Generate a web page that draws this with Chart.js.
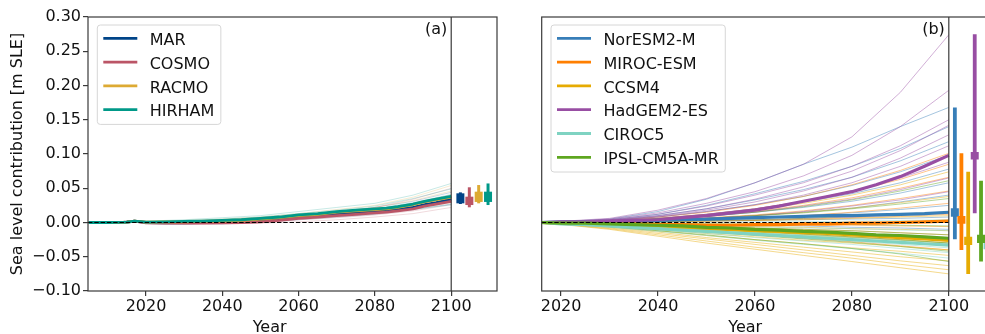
<!DOCTYPE html>
<html><head><meta charset="utf-8">
<script src="https://cdn.jsdelivr.net/npm/chart.js@4/dist/chart.umd.min.js"></script>
<style>
html,body{margin:0;padding:0;background:#fff;overflow:hidden;width:985px;height:334px;}
#wa{position:absolute;left:0;top:0;width:500px;height:334px;}
#wb{position:absolute;left:500px;top:0;width:500px;height:334px;}
</style></head><body>
<div id="wa"><canvas id="ca" width="500" height="334"></canvas></div>
<div id="wb"><canvas id="cb" width="500" height="334"></canvas></div>
<script>
// ---------------- shared ticks ----------------
const xTicks = [2020, 2040, 2060, 2080, 2100];
const yTicks = [-0.10, -0.05, 0.00, 0.05, 0.10, 0.15, 0.20, 0.25, 0.30];
const yTickLabels = ['\u22120.10', '\u22120.05', '0.00', '0.05', '0.10', '0.15', '0.20', '0.25', '0.30'];

// ---------------- panel (a) ----------------
const aNames = ['MAR', 'COSMO', 'RACMO', 'HIRHAM'];
const aColors = ['#004488', '#BB5566', '#DDAA33', '#009988'];
const aYears = [2005,2010,2015,2017,2020,2025,2030,2035,2040,2045,2050,2055,2060,2065,2070,2075,2080,2083,2086,2090,2093,2096,2100];
const aMAR    = [0,0,0.0005,0.002,0,-0.0005,-0.0005,-0.0003,0,0.001,0.003,0.005,0.008,0.010,0.012,0.014,0.016,0.017,0.019,0.022,0.026,0.029,0.034];
const aCOSMO  = [0,0,0.0005,0.002,-0.0005,-0.001,-0.001,-0.001,-0.0005,0,0.001,0.003,0.006,0.008,0.010,0.012,0.014,0.015,0.017,0.020,0.024,0.027,0.031];
const aRACMO  = [0,0,0.0005,0.002,0.0005,0.001,0.001,0.0015,0.002,0.003,0.005,0.007,0.010,0.012,0.015,0.017,0.019,0.020,0.022,0.026,0.030,0.033,0.037];
const aHIRHAM = [0,0,0.0005,0.002,0.0005,0.001,0.0015,0.002,0.003,0.004,0.006,0.008,0.011,0.013,0.016,0.018,0.020,0.021,0.023,0.027,0.031,0.034,0.038];

const aThinYears = [2005,2017,2020,2030,2040,2050,2060,2070,2080,2090,2100];
const aMARThin = [
  [0,0.002,0,-0.001,-0.002,0.000,0.004,0.008,0.012,0.019,0.027],
  [0,0.002,0,0.000,0.001,0.003,0.007,0.011,0.016,0.023,0.033],
  [0,0.002,0.001,0.001,0.003,0.005,0.009,0.014,0.019,0.028,0.040],
  [0,0.002,0.001,0.002,0.004,0.007,0.011,0.016,0.022,0.031,0.044]
];
const aCOSMOThin = [
  [0,0.002,-0.001,-0.002,-0.002,-0.001,0.001,0.004,0.008,0.013,0.022],
  [0,0.002,0,-0.001,-0.001,0.001,0.004,0.007,0.011,0.017,0.026],
  [0,0.002,0,0.000,0.001,0.003,0.006,0.010,0.015,0.022,0.032],
  [0,0.002,0.001,0.001,0.003,0.006,0.010,0.015,0.022,0.034,0.050]
];
const aRACMOThin = [
  [0,0.002,0.001,0.001,0.002,0.004,0.007,0.010,0.014,0.020,0.029],
  [0,0.002,0.001,0.002,0.004,0.007,0.011,0.016,0.022,0.032,0.046],
  [0,0.002,0.001,0.003,0.005,0.008,0.013,0.019,0.025,0.037,0.054],
  [0,0.002,0.000,0.001,0.003,0.005,0.009,0.013,0.019,0.028,0.040]
];
const aHIRHAMThin = [
  [0,0.002,0.002,0.004,0.007,0.010,0.016,0.022,0.028,0.040,0.057],
  [0,0.002,0.001,0.003,0.005,0.008,0.013,0.018,0.024,0.035,0.049],
  [0,0.002,0.001,0.002,0.004,0.006,0.010,0.015,0.020,0.029,0.041],
  [0,0.002,0.000,0.001,0.002,0.003,0.006,0.009,0.013,0.019,0.026]
];
const aBarX   = [2102.4, 2104.75, 2107.2, 2109.65];
const aBarMin = [0.027, 0.0222, 0.028, 0.0255];
const aBarMax = [0.044, 0.0514, 0.0547, 0.057];
const aBarLo  = [0.028, 0.0255, 0.030, 0.030];
const aBarHi  = [0.0426, 0.0377, 0.045, 0.045];

// ---------------- panel (b) ----------------
const bNames = ['NorESM2-M', 'MIROC-ESM', 'CCSM4', 'HadGEM2-ES', 'CIROC5', 'IPSL-CM5A-MR'];
const bColors = ['#377eb8', '#ff7f00', '#e6ab02', '#984ea3', '#7fd3c2', '#5ea620'];
const bYears = [2016,2020,2025,2030,2035,2040,2045,2050,2055,2060,2065,2070,2075,2080,2085,2090,2095,2100];
const bNorESM = [0,0.001,0.001,0.001,0.002,0.003,0.004,0.005,0.006,0.007,0.008,0.009,0.010,0.010,0.011,0.012,0.013,0.015];
const bMIROC  = [0,-0.001,-0.001,-0.002,-0.002,-0.003,-0.003,-0.004,-0.004,-0.003,-0.003,-0.002,-0.002,-0.001,-0.001,0.000,0.001,0.002];
const bCCSM4  = [0,-0.001,-0.002,-0.003,-0.004,-0.006,-0.007,-0.009,-0.010,-0.012,-0.013,-0.015,-0.016,-0.018,-0.020,-0.022,-0.024,-0.026];
const bHadGEM = [0,0.001,0.001,0.002,0.003,0.004,0.007,0.010,0.014,0.018,0.024,0.031,0.038,0.045,0.055,0.067,0.082,0.098];
const bCIROC5 = [0,-0.002,-0.003,-0.005,-0.007,-0.009,-0.011,-0.013,-0.015,-0.017,-0.019,-0.021,-0.023,-0.025,-0.027,-0.029,-0.031,-0.033];
const bIPSL   = [0,-0.001,-0.001,-0.002,-0.003,-0.004,-0.005,-0.007,-0.008,-0.010,-0.011,-0.013,-0.014,-0.016,-0.018,-0.019,-0.021,-0.023];

const bThinYears = [2016,2030,2040,2050,2060,2070,2080,2090,2100];
const bNorESMThin = [
  [0,0.005,0.016,0.034,0.058,0.085,0.110,0.140,0.168],
  [0,0.004,0.012,0.025,0.042,0.060,0.082,0.108,0.140],
  [0,0.003,0.010,0.020,0.033,0.048,0.066,0.090,0.118],
  [0,0.003,0.008,0.016,0.026,0.038,0.054,0.074,0.098],
  [0,0.002,0.006,0.012,0.020,0.030,0.042,0.058,0.078],
  [0,0.002,0.005,0.009,0.015,0.022,0.031,0.043,0.058],
  [0,0.001,0.003,0.006,0.010,0.015,0.021,0.030,0.040],
  [0,0.001,0.002,0.004,0.007,0.010,0.014,0.019,0.025],
  [0,0.000,0.001,0.002,0.003,0.004,0.005,0.006,0.008],
  [0,-0.001,-0.002,-0.003,-0.004,-0.005,-0.007,-0.008,-0.010],
  [0,-0.002,-0.004,-0.007,-0.010,-0.013,-0.016,-0.020,-0.024]
];
const bMIROCThin = [
  [0,0.003,0.008,0.015,0.025,0.038,0.055,0.076,0.101],
  [0,0.002,0.006,0.012,0.020,0.031,0.045,0.063,0.085],
  [0,0.002,0.005,0.010,0.016,0.025,0.036,0.050,0.066],
  [0,0.001,0.003,0.007,0.011,0.017,0.025,0.035,0.046],
  [0,0.001,0.002,0.004,0.007,0.010,0.015,0.021,0.028],
  [0,0.000,0.001,0.002,0.003,0.005,0.007,0.009,0.012],
  [0,-0.001,-0.002,-0.002,-0.003,-0.004,-0.004,-0.005,-0.006],
  [0,-0.002,-0.004,-0.006,-0.008,-0.010,-0.012,-0.015,-0.018],
  [0,-0.003,-0.006,-0.009,-0.013,-0.017,-0.021,-0.025,-0.030],
  [0,-0.004,-0.008,-0.013,-0.018,-0.023,-0.028,-0.034,-0.040]
];
const bCCSM4Thin = [
  [0,0.002,0.006,0.011,0.018,0.028,0.040,0.055,0.074],
  [0,0.001,0.003,0.006,0.010,0.015,0.021,0.029,0.038],
  [0,0.000,0.001,0.002,0.003,0.004,0.006,0.008,0.010],
  [0,-0.002,-0.003,-0.004,-0.006,-0.007,-0.009,-0.010,-0.012],
  [0,-0.004,-0.008,-0.012,-0.016,-0.019,-0.022,-0.026,-0.030],
  [0,-0.005,-0.010,-0.016,-0.021,-0.026,-0.030,-0.035,-0.040],
  [0,-0.006,-0.012,-0.019,-0.025,-0.031,-0.037,-0.042,-0.048],
  [0,-0.007,-0.014,-0.022,-0.029,-0.036,-0.043,-0.050,-0.056],
  [0,-0.008,-0.016,-0.024,-0.032,-0.040,-0.048,-0.056,-0.063],
  [0,-0.009,-0.018,-0.027,-0.036,-0.044,-0.052,-0.061,-0.069],
  [0,-0.010,-0.020,-0.030,-0.039,-0.048,-0.057,-0.066,-0.075]
];
const bHadGEMThin = [
  [0,0.006,0.018,0.035,0.058,0.085,0.125,0.190,0.274],
  [0,0.005,0.014,0.028,0.045,0.068,0.098,0.140,0.193],
  [0,0.004,0.012,0.024,0.040,0.058,0.082,0.112,0.150],
  [0,0.004,0.010,0.020,0.034,0.052,0.075,0.105,0.142],
  [0,0.003,0.009,0.018,0.030,0.046,0.066,0.094,0.128],
  [0,0.003,0.008,0.016,0.026,0.040,0.058,0.082,0.112],
  [0,0.002,0.006,0.012,0.020,0.031,0.046,0.065,0.088],
  [0,0.002,0.005,0.009,0.015,0.024,0.034,0.048,0.065],
  [0,0.001,0.003,0.006,0.010,0.016,0.024,0.033,0.045],
  [0,0.001,0.002,0.003,0.004,0.006,0.008,0.011,0.014]
];
const bCIROC5Thin = [
  [0,-0.001,-0.001,0.000,0.001,0.001,0.002,0.003,0.004],
  [0,-0.002,-0.003,-0.005,-0.006,-0.008,-0.009,-0.011,-0.012],
  [0,-0.003,-0.005,-0.008,-0.011,-0.014,-0.016,-0.019,-0.022],
  [0,-0.004,-0.007,-0.011,-0.015,-0.018,-0.022,-0.026,-0.030],
  [0,-0.005,-0.009,-0.014,-0.018,-0.023,-0.027,-0.032,-0.037],
  [0,-0.006,-0.011,-0.016,-0.022,-0.027,-0.032,-0.038,-0.044],
  [0,-0.007,-0.013,-0.019,-0.026,-0.032,-0.038,-0.045,-0.052]
];
const bIPSLThin = [
  [0,0.002,0.005,0.009,0.015,0.023,0.033,0.046,0.061],
  [0,0.001,0.003,0.006,0.010,0.014,0.020,0.027,0.035],
  [0,0.000,0.001,0.003,0.004,0.006,0.009,0.012,0.015],
  [0,-0.001,-0.001,-0.002,-0.002,-0.003,-0.003,-0.004,-0.005],
  [0,-0.002,-0.004,-0.006,-0.008,-0.010,-0.012,-0.015,-0.018],
  [0,-0.003,-0.006,-0.010,-0.014,-0.017,-0.021,-0.025,-0.030],
  [0,-0.005,-0.009,-0.014,-0.019,-0.024,-0.029,-0.035,-0.042],
  [0,-0.006,-0.012,-0.018,-0.025,-0.031,-0.038,-0.046,-0.057]
];
const bBarX   = [2101.25, 2102.6, 2104.0, 2105.35, 2108.0, 2106.65];
const bBarMin = [-0.0245, -0.040, -0.075, 0.0134, -0.052, -0.057];
const bBarMax = [0.168, 0.101, 0.074, 0.275, 0.004, 0.061];
const bBarLo  = [0.0085, -0.002, -0.033, 0.092, -0.039, -0.030];
const bBarHi  = [0.0207, 0.0095, -0.0207, 0.103, -0.027, -0.018];

// ---------------- helpers ----------------
const FONT = "'DejaVu Sans', sans-serif";
const TXT = '#111';
const AX = '#3a3a3a';
function rgba(hex, a) {
  const n = parseInt(hex.slice(1), 16);
  return `rgba(${(n >> 16) & 255},${(n >> 8) & 255},${n & 255},${a})`;
}
function pts(xs, ys) { return xs.map((x, i) => ({ x: x, y: ys[i] })); }
function lineSet(data, color, width) {
  return { type: 'line', data: data, borderColor: color, backgroundColor: color, borderWidth: width,
    pointRadius: 0, fill: false, tension: 0, borderCapStyle: 'butt', borderJoinStyle: 'round' };
}
function buildSets(thinYears, thinGroups, years, thick, colors, thinAlpha, thinWidth, thickWidth,
                   barX, barMin, barMax, barLo, barHi, rangeW, boxW) {
  const seq = [];
  thinGroups.forEach((g, k) => g.forEach(r => seq.push(lineSet(pts(thinYears, r), rgba(colors[k], thinAlpha), thinWidth))));
  thick.forEach((t, k) => seq.push(lineSet(pts(years, t), colors[k], thickWidth)));
  barX.forEach((x, k) => {
    seq.push(lineSet([{ x: x, y: barMin[k] }, { x: x, y: barMax[k] }], colors[k], rangeW));
    seq.push(lineSet([{ x: x, y: barLo[k] }, { x: x, y: barHi[k] }], colors[k], boxW));
  });
  const N = seq.length;
  seq.forEach((d, i) => { d.order = N - i; });
  return seq;
}

const decor = {
  id: 'decor',
  afterDatasetsDraw(chart, args, o) {
    const { ctx, chartArea: a, scales: { x, y } } = chart;
    const xs = x.getPixelForValue(o.split);
    const y0 = y.getPixelForValue(0);
    ctx.save();
    ctx.strokeStyle = '#000'; ctx.lineWidth = 1.2; ctx.setLineDash([4.4, 1.9]);
    ctx.beginPath(); ctx.moveTo(a.left, y0); ctx.lineTo(xs, y0); ctx.stroke();
    ctx.setLineDash([]);
    ctx.strokeStyle = AX; ctx.lineWidth = 1.2;
    ctx.beginPath(); ctx.moveTo(xs, a.top); ctx.lineTo(xs, a.bottom); ctx.stroke();
    ctx.strokeRect(a.left, a.top, a.right - a.left, a.bottom - a.top);
    ctx.fillStyle = TXT; ctx.font = '16px ' + FONT;
    ctx.textAlign = 'right'; ctx.textBaseline = 'alphabetic';
    ctx.fillText(o.tag, xs - 4, a.top + 17);
    ctx.textAlign = 'center';
    ctx.fillText('Year', (a.left + xs) / 2, 331.5);
    // legend
    const L = a.left + 9.3, T = a.top + 8, rowH = 23.8;
    const textX = L + 52.4;
    let maxW = 0;
    o.names.forEach(n => { maxW = Math.max(maxW, ctx.measureText(n).width); });
    const W = textX - L + maxW + 6.5;
    const H = 28 + (o.names.length - 1) * rowH;
    ctx.fillStyle = 'rgba(255,255,255,0.8)';
    ctx.strokeStyle = '#d6d6d6'; ctx.lineWidth = 1;
    ctx.beginPath();
    if (ctx.roundRect) ctx.roundRect(L, T, W, H, 3); else ctx.rect(L, T, W, H);
    ctx.fill(); ctx.stroke();
    ctx.textAlign = 'left';
    o.names.forEach((n, i) => {
      const ry = T + 13.3 + i * rowH;
      ctx.strokeStyle = o.colors[i]; ctx.lineWidth = 2.8;
      ctx.beginPath(); ctx.moveTo(L + 6, ry); ctx.lineTo(L + 40, ry); ctx.stroke();
      ctx.fillStyle = TXT;
      ctx.fillText(n, textX, ry + 6.6);
    });
    ctx.restore();
  }
};

function xScale(min, max) {
  return {
    type: 'linear', min: min, max: max,
    afterBuildTicks: s => { s.ticks = xTicks.map(v => ({ value: v })); },
    afterFit: s => { s.height = 43; },
    ticks: { callback: v => String(Math.round(v)), font: { family: FONT, size: 16 }, color: TXT, padding: 1, maxRotation: 0, autoSkip: false },
    grid: { drawOnChartArea: false, drawTicks: true, tickLength: 5, tickColor: AX, lineWidth: 1.2 },
    border: { display: false }
  };
}

Chart.defaults.font.family = FONT;

new Chart(document.getElementById('ca'), {
  type: 'line',
  data: { datasets: buildSets(aThinYears, [aMARThin, aCOSMOThin, aRACMOThin, aHIRHAMThin], aYears,
    [aMAR, aCOSMO, aRACMO, aHIRHAM], aColors, 0.22, 1, 2.8, aBarX, aBarMin, aBarMax, aBarLo, aBarHi, 3, 8) },
  options: {
    responsive: false, animation: false, events: [],
    layout: { padding: { left: 0, right: 3, top: 17, bottom: 0 } },
    plugins: { legend: { display: false }, tooltip: { enabled: false },
      decor: { split: 2100, tag: '(a)', names: aNames, colors: aColors } },
    scales: {
      x: xScale(2004.8, 2112),
      y: {
        type: 'linear', min: -0.1, max: 0.3,
        afterBuildTicks: s => { s.ticks = yTicks.map(v => ({ value: v })); },
        afterFit: s => { s.width = 88; },
        ticks: { callback: v => { const i = yTicks.findIndex(t => Math.abs(t - v) < 1e-9); return yTickLabels[i]; },
          font: { family: FONT, size: 16 }, color: TXT, padding: 2 },
        grid: { drawOnChartArea: false, drawTicks: true, tickLength: 5, tickColor: AX, lineWidth: 1.2 },
        border: { display: false },
        title: { display: true, text: 'Sea level contribution [m SLE]', font: { family: FONT, size: 16, lineHeight: 1.2 }, color: TXT, padding: { top: 8.5, bottom: 0 } }
      }
    }
  },
  plugins: [decor]
});

new Chart(document.getElementById('cb'), {
  type: 'line',
  data: { datasets: buildSets(bThinYears, [bNorESMThin, bMIROCThin, bCCSM4Thin, bHadGEMThin, bCIROC5Thin, bIPSLThin], bYears,
    [bNorESM, bMIROC, bCCSM4, bHadGEM, bCIROC5, bIPSL], bColors, 0.5, 0.9, 3.2, bBarX, bBarMin, bBarMax, bBarLo, bBarHi, 3.8, 8) },
  options: {
    responsive: false, animation: false, events: [],
    layout: { padding: { left: 41.7, right: 10, top: 17, bottom: 0 } },
    plugins: { legend: { display: false }, tooltip: { enabled: false },
      decor: { split: 2100, tag: '(b)', names: bNames, colors: bColors } },
    scales: {
      x: xScale(2016, 2108.5),
      y: { type: 'linear', min: -0.1, max: 0.3, display: false }
    }
  },
  plugins: [decor]
});
</script>
</body></html>
